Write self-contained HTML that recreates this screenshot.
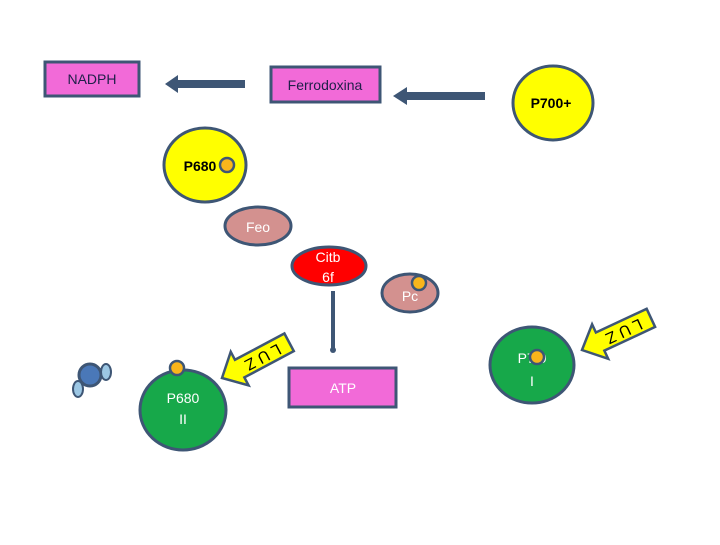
<!DOCTYPE html>
<html><head><style>
body{margin:0;background:#fff}
text{font-family:"Liberation Sans",sans-serif}
</style></head><body>
<svg width="720" height="540" viewBox="0 0 720 540" xmlns="http://www.w3.org/2000/svg">
<g stroke="#3e5675" stroke-width="3">
<rect x="45" y="62" width="94" height="34" fill="#f26ad8"/>
<rect x="271" y="67" width="109" height="35" fill="#f26ad8"/>
<rect x="289" y="368" width="107" height="39" fill="#f26ad8"/>
<ellipse cx="553" cy="103" rx="40" ry="37" fill="#ffff00"/>
<ellipse cx="205" cy="165" rx="41" ry="37" fill="#ffff00"/>
<ellipse cx="258" cy="226" rx="33" ry="19" fill="#d3918f"/>
<ellipse cx="329" cy="266" rx="37" ry="19" fill="#ff0000"/>
<ellipse cx="410" cy="293" rx="28" ry="19" fill="#d3918f"/>
<ellipse cx="183" cy="410" rx="43" ry="40" fill="#17a84a"/>
<ellipse cx="532" cy="365" rx="42" ry="38" fill="#17a84a"/>
<circle cx="90" cy="375" r="11" fill="#4a78b8"/>
<ellipse cx="106" cy="372" rx="5" ry="8" fill="#9cc7e4" stroke-width="2"/>
<ellipse cx="78" cy="389" rx="5" ry="8" fill="#9cc7e4" stroke-width="2"/>
<g fill="#f9b51b" stroke-width="2.5">
<circle cx="227" cy="165" r="7"/>
<circle cx="419" cy="283" r="7"/>
<circle cx="177" cy="368" r="7"/>
</g>
</g>
<g fill="#3e5675">
<rect x="175" y="80" width="70" height="8"/>
<polygon points="165,84 178,75 178,93"/>
<rect x="405" y="92" width="80" height="8"/>
<polygon points="393,96 407,87 407,105"/>
<rect x="331" y="291" width="4" height="59"/>
<circle cx="333" cy="350" r="3"/>
</g>
<g transform="translate(222,378) rotate(-28)" stroke="#3e5675" stroke-width="2.5" fill="#ffff00">
<polygon points="0,0 20,-19 20,-10 76,-10 76,10 20,10 20,19"/>
<text x="46" y="0" transform="rotate(180 46 0)" font-size="16" fill="#000" stroke="none" text-anchor="middle" dominant-baseline="central">L U Z</text>
</g>
<g transform="translate(582,350) rotate(-25)" stroke="#3e5675" stroke-width="2.5" fill="#ffff00">
<polygon points="0,0 20,-19 20,-10 76,-10 76,10 20,10 20,19"/>
<text x="46" y="0" transform="rotate(180 46 0)" font-size="16" fill="#000" stroke="none" text-anchor="middle" dominant-baseline="central">L U Z</text>
</g>
<g font-size="14" text-anchor="middle">
<text x="92" y="84" fill="#20204a">NADPH</text>
<text x="325" y="90" fill="#20204a">Ferrodoxina</text>
<text x="551" y="108" font-weight="bold" fill="#000">P700+</text>
<text x="200" y="171" font-weight="bold" fill="#000">P680</text>
<text x="258" y="232" fill="#fff">Feo</text>
<text x="328" y="262" fill="#fff">Citb</text>
<text x="328" y="282" fill="#fff">6f</text>
<text x="410" y="301" fill="#fff">Pc</text>
<text x="343" y="393" fill="#fff">ATP</text>
<text x="183" y="403" fill="#fff">P680</text>
<text x="183" y="424" fill="#fff">II</text>
<text x="532" y="363" fill="#fff">P7  0</text>
<text x="532" y="386" fill="#fff">I</text>
</g>
<circle cx="537" cy="357" r="7" fill="#f9b51b" stroke="#3e5675" stroke-width="2.5"/>
</svg>
</body></html>
